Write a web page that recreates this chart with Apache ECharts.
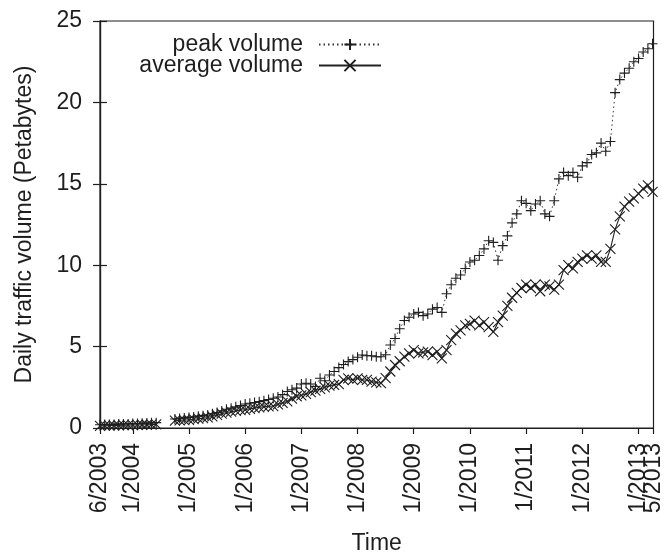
<!DOCTYPE html>
<html><head><meta charset="utf-8">
<script src="https://cdn.jsdelivr.net/npm/echarts@6/dist/echarts.min.js"></script>
<style>html,body{margin:0;padding:0;background:#fff}#c{width:665px;height:560px}</style>
</head><body><div id="c"></div>
<script>
// Monthly values, index 0 = 6/2003 (gap 8/2004-9/2004 = null)
const peakVolume = [
  0.20,0.21,0.22,0.22,0.24,0.25,0.25,0.27,0.28,0.29,0.30,0.32,0.33,
  null,null,null,
  0.55,0.58,0.62,0.65,0.68,0.72,0.76,0.80,0.88,0.95,1.05,1.15,1.22,1.30,1.38,1.47,
  1.52,1.57,1.62,1.68,1.75,1.83,1.90,2.05,2.24,2.35,2.45,2.70,2.75,2.70,2.55,3.06,
  2.90,3.26,3.47,3.71,3.90,4.08,4.20,4.35,4.48,4.44,4.44,4.38,4.38,4.50,5.10,5.50,
  6.10,6.60,6.80,7.00,7.10,6.90,7.00,7.30,7.40,7.10,8.25,8.80,9.20,9.40,9.80,10.20,
  10.30,10.60,11.00,11.50,11.40,10.30,11.20,11.80,12.60,13.15,13.96,13.80,13.35,13.76,13.96,13.15,
  13.00,13.96,15.30,15.70,15.50,15.70,15.40,16.10,16.30,16.80,16.90,17.50,17.00,17.60,20.60,21.40,
  21.80,22.10,22.50,22.70,23.10,23.30,23.60
];
const averageVolume = [
  0.13,0.14,0.15,0.15,0.16,0.17,0.17,0.18,0.19,0.20,0.20,0.21,0.22,
  null,null,null,
  0.45,0.47,0.49,0.50,0.54,0.57,0.60,0.65,0.72,0.80,0.88,0.95,1.00,1.05,1.10,1.12,
  1.18,1.22,1.27,1.30,1.33,1.35,1.45,1.55,1.63,1.80,1.95,2.00,2.10,2.20,2.30,2.40,
  2.50,2.60,2.65,2.70,2.95,3.05,2.95,3.05,2.95,2.95,2.85,2.80,2.75,3.06,3.47,3.87,
  4.10,4.38,4.59,4.79,4.59,4.65,4.69,4.48,4.69,4.28,4.79,5.40,5.80,6.00,6.30,6.40,
  6.60,6.30,6.50,6.20,5.90,6.50,6.90,7.50,8.00,8.30,8.60,8.80,8.60,8.80,8.40,8.80,
  8.70,8.50,8.80,9.70,10.00,9.80,10.20,10.40,10.60,10.40,10.60,10.20,10.20,11.00,12.20,13.00,
  13.60,13.90,14.10,14.40,14.70,14.90,14.50
];
const seriesNames = ['peak volume', 'average volume'];
const tickLabels = ['6/2003','1/2004','1/2005','1/2006','1/2007','1/2008','1/2009','1/2010','1/2011','1/2012','1/2013','5/2013'];
const tickPositions = [0, 7, 19, 31, 43, 55, 67, 79, 91, 103, 115, 118.2];
const yTicks = [0, 5, 10, 15, 20, 25];

const toPairs = arr => arr.map((v, i) => [i, v]);
const FONT = 'Liberation Sans, Arial, Helvetica, sans-serif';
const INK = '#1e1e1e';
const xMin = tickPositions[0], xMax = tickPositions[tickPositions.length - 1];
const mainTicks = tickPositions.slice(0, -1);
const endTicks = tickPositions.slice(-1);
const labelFor = v => {
  let best = 0;
  tickPositions.forEach((p, i) => { if (Math.abs(p - v) < Math.abs(tickPositions[best] - v)) best = i; });
  return tickLabels[best];
};
const xLabelBase = {rotate: 90, margin: 15, fontSize: 23, fontFamily: FONT, color: INK, hideOverlap: false, formatter: labelFor};

const chart = echarts.init(document.getElementById('c'), null, {renderer: 'canvas'});
chart.setOption({
  animation: false,
  backgroundColor: '#fff',
  textStyle: {fontFamily: FONT, color: INK},
  grid: {left: 100, right: 9, top: 21, bottom: 131, show: true, borderColor: INK, borderWidth: 1.2, containLabel: false},
  legend: {
    orient: 'vertical', align: 'right', right: 283, top: 33, padding: 0,
    itemWidth: 62, itemHeight: 14, itemGap: -2, selectedMode: false,
    textStyle: {fontSize: 23, fontFamily: FONT, color: INK, lineHeight: 21, padding: [0, 11, 0, 0]},
    data: seriesNames
  },
  xAxis: [{
    type: 'value', min: xMin, max: xMax, position: 'bottom',
    name: 'Time', nameLocation: 'middle', nameGap: 104,
    nameTextStyle: {fontSize: 23, fontFamily: FONT, color: INK},
    axisLine: {show: true, lineStyle: {color: INK, width: 1.2}},
    axisTick: {show: true, inside: false, length: 6, customValues: mainTicks, lineStyle: {color: INK, width: 1.2}},
    axisLabel: Object.assign({customValues: mainTicks, showMinLabel: true, showMaxLabel: true}, xLabelBase),
    splitLine: {show: false}
  }, {
    type: 'value', min: xMin, max: xMax, position: 'bottom', offset: 0,
    axisLine: {show: false},
    axisTick: {show: true, inside: false, length: 6, customValues: endTicks, lineStyle: {color: INK, width: 1.2}},
    axisLabel: Object.assign({customValues: endTicks, showMinLabel: true, showMaxLabel: true}, xLabelBase),
    splitLine: {show: false}
  }],
  yAxis: [{
    type: 'value', min: yTicks[0], max: yTicks[yTicks.length - 1], interval: 5,
    name: 'Daily traffic volume (Petabytes)', nameLocation: 'middle', nameGap: 64,
    nameTextStyle: {fontSize: 23, fontFamily: FONT, color: INK},
    axisLine: {show: true, lineStyle: {color: INK, width: 1.2}},
    axisTick: {show: true, inside: true, length: 7, lineStyle: {color: INK, width: 1.2}},
    axisLabel: {margin: 18, fontSize: 23, fontFamily: FONT, color: INK},
    splitLine: {show: false}
  }, {
    type: 'value', position: 'right', min: yTicks[0], max: yTicks[yTicks.length - 1], interval: 5,
    axisLine: {show: true, lineStyle: {color: INK, width: 1.2}},
    axisTick: {show: true, inside: true, length: 7, lineStyle: {color: INK, width: 1.2}},
    axisLabel: {show: false},
    splitLine: {show: false}
  }],
  series: [{
    name: seriesNames[0], type: 'line', data: toPairs(peakVolume), xAxisIndex: 0, yAxisIndex: 0,
    symbol: 'path://M0,5L10,5M5,0L5,10', symbolSize: 10, showAllSymbol: true, showSymbol: true,
    itemStyle: {color: INK, borderColor: INK, borderWidth: 1.1},
    lineStyle: {color: '#333', width: 1, type: [1.5, 3]},
    emphasis: {disabled: true}, z: 3
  }, {
    name: seriesNames[1], type: 'line', data: toPairs(averageVolume), xAxisIndex: 0, yAxisIndex: 0,
    symbol: 'path://M0,0L10,10M10,0L0,10', symbolSize: 10, showAllSymbol: true, showSymbol: true,
    itemStyle: {color: INK, borderColor: INK, borderWidth: 1.1},
    lineStyle: {color: '#222', width: 1.1, type: 'solid'},
    emphasis: {disabled: true}, z: 3
  }]
});
</script>
</body></html>
